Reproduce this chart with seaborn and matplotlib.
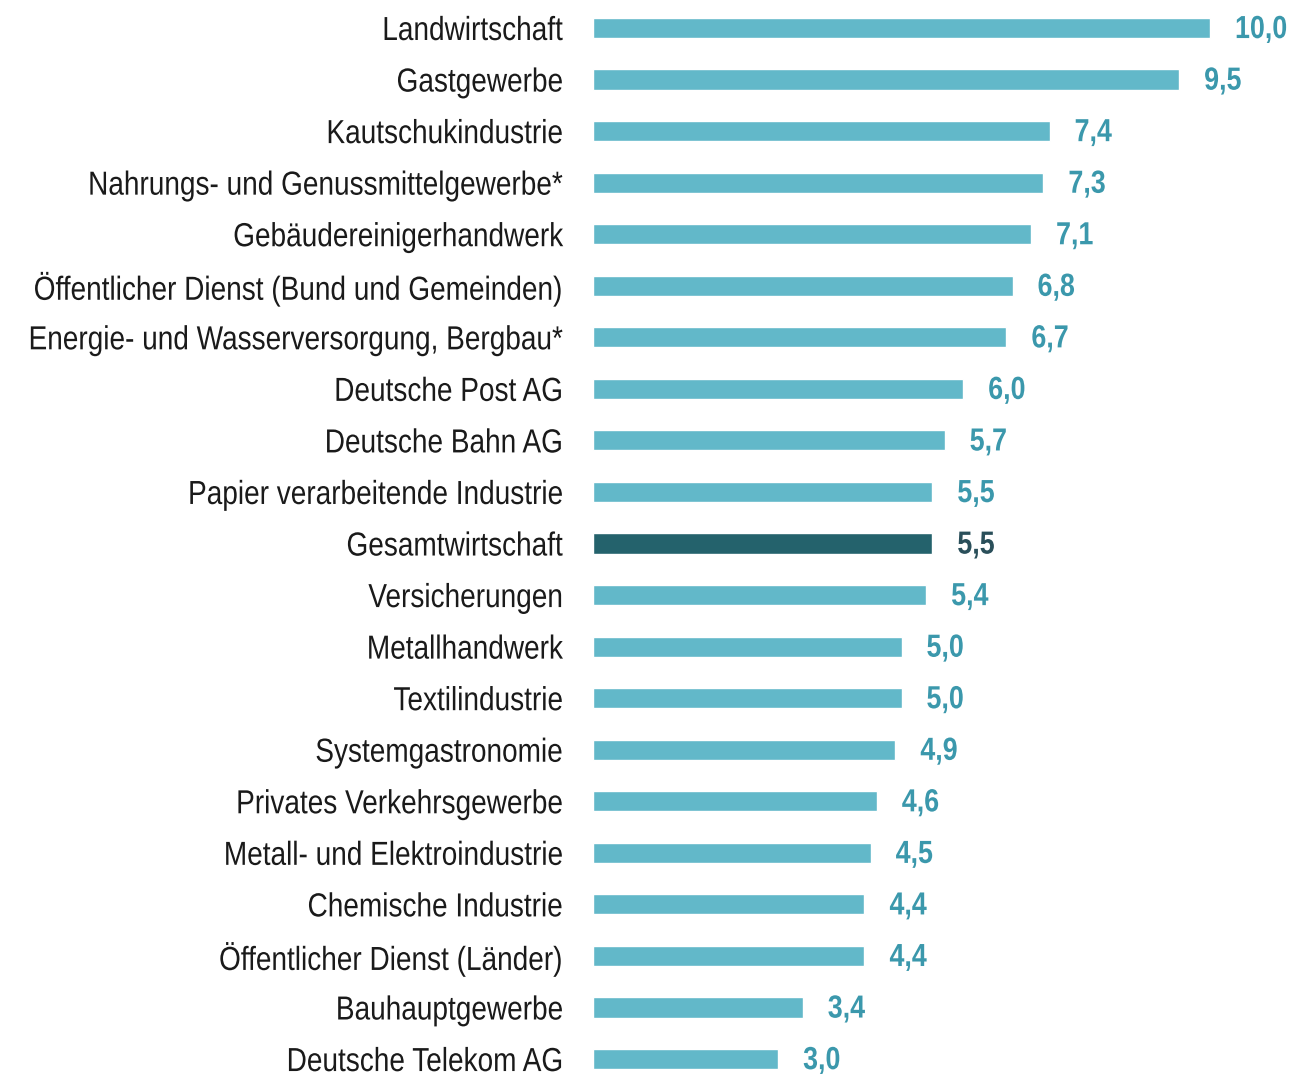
import matplotlib
matplotlib.use("Agg")
import matplotlib.pyplot as plt
from matplotlib.patheffects import AbstractPathEffect
from matplotlib.transforms import Affine2D
import seaborn as sns
import pandas as pd

# Daten
branchen = [
    "Landwirtschaft",
    "Gastgewerbe",
    "Kautschukindustrie",
    "Nahrungs- und Genussmittelgewerbe*",
    "Gebäudereinigerhandwerk",
    "Öffentlicher Dienst (Bund und Gemeinden)",
    "Energie- und Wasserversorgung, Bergbau*",
    "Deutsche Post AG",
    "Deutsche Bahn AG",
    "Papier verarbeitende Industrie",
    "Gesamtwirtschaft",
    "Versicherungen",
    "Metallhandwerk",
    "Textilindustrie",
    "Systemgastronomie",
    "Privates Verkehrsgewerbe",
    "Metall- und Elektroindustrie",
    "Chemische Industrie",
    "Öffentlicher Dienst (Länder)",
    "Bauhauptgewerbe",
    "Deutsche Telekom AG",
]
werte = [10.0, 9.5, 7.4, 7.3, 7.1, 6.8, 6.7, 6.0, 5.7, 5.5, 5.5,
         5.4, 5.0, 5.0, 4.9, 4.6, 4.5, 4.4, 4.4, 3.4, 3.0]
hervorgehoben = "Gesamtwirtschaft"

HELL = "#62b8c9"
DUNKEL = "#24626c"
TEXT_HELL = "#3b98ac"
TEXT_DUNKEL = "#2a4f5a"


# Schmalschrift nachbilden: Glyphen horizontal um einen Ankerpunkt stauchen
class Stauchen(AbstractPathEffect):
    def __init__(self, anker_x, faktor=0.84):
        super().__init__()
        self.anker_x = anker_x
        self.faktor = faktor

    def draw_path(self, renderer, gc, tpath, affine, rgbFace=None):
        t = affine + Affine2D().translate(-self.anker_x, 0).scale(self.faktor, 1).translate(self.anker_x, 0)
        renderer.draw_path(gc, tpath, t, rgbFace)


df = pd.DataFrame({"Branche": branchen, "Wert": werte})
farben = {b: (DUNKEL if b == hervorgehoben else HELL) for b in branchen}

sns.set_style("white")
plt.rcParams["font.family"] = ["Liberation Sans", "DejaVu Sans"]

fig = plt.figure(figsize=(12.95, 10.74), dpi=100)
# 1 Einheit ~ 61.7 px, Balken beginnen bei x=593 px
px_pro_einheit = 61.7
links_px = 593
xmax = 11.5
ax = fig.add_axes([links_px / 1295, 0, xmax * px_pro_einheit / 1295, 1])

sns.barplot(data=df, x="Wert", y="Branche", hue="Branche", palette=farben,
            legend=False, width=0.39, orient="h", ax=ax, saturation=1)

ax.set_xlim(0, xmax)
ax.set_ylim(20.29, -0.543)
ax.set_xlabel("")
ax.set_ylabel("")
ax.set_xticks([])
label_rand = 563
ax.tick_params(axis="y", length=0, pad=(links_px - label_rand) * 72 / 100,
               labelsize=24, labelcolor="#1a1a1a")
for lbl in ax.get_yticklabels():
    lbl.set_path_effects([Stauchen(label_rand)])
for s in ax.spines.values():
    s.set_visible(False)

for i, (b, w) in enumerate(zip(branchen, werte)):
    farbe = TEXT_DUNKEL if b == hervorgehoben else TEXT_HELL
    x_px = links_px + w * px_pro_einheit + 25
    txt = ax.text(w + 25 / px_pro_einheit, i + 0.04, f"{w:.1f}".replace(".", ","),
                  va="center", ha="left", fontsize=23, fontweight="bold", color=farbe)
    txt.set_path_effects([Stauchen(x_px)])

fig.savefig("out.png", dpi=100)
